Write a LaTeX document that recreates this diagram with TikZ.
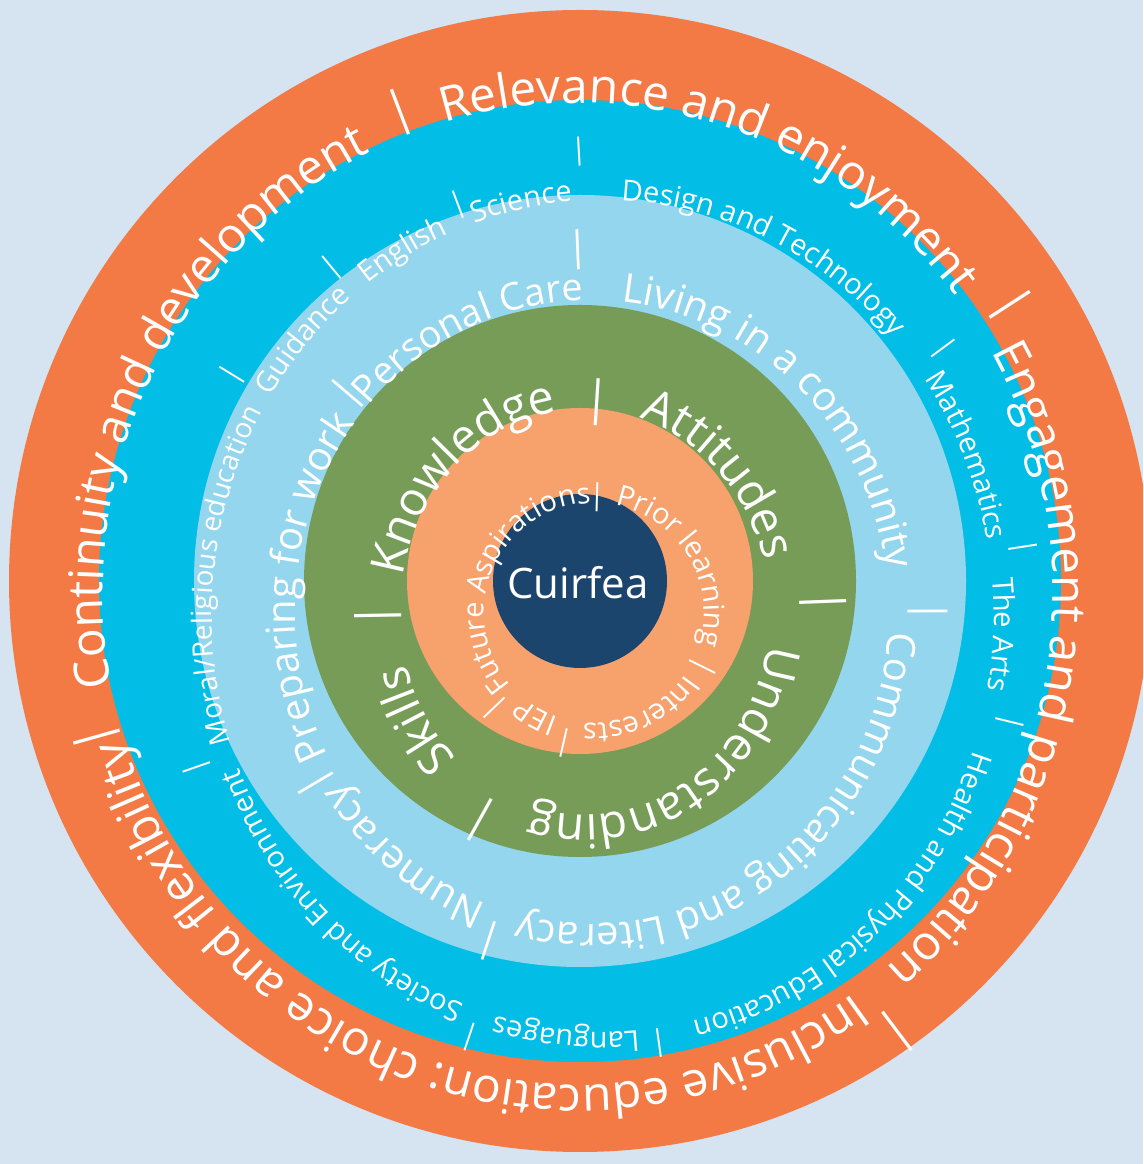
\documentclass[tikz,border=0pt]{standalone}
\usepackage{fontspec}
\setmainfont{Open Sans}
\usetikzlibrary{decorations.text}
\definecolor{bgc}{HTML}{D6E4F2}
\definecolor{ringorange}{HTML}{F37945}
\definecolor{ringcyan}{HTML}{02BEE6}
\definecolor{ringlight}{HTML}{94D6ED}
\definecolor{ringgreen}{HTML}{769C58}
\definecolor{ringpeach}{HTML}{F7A26C}
\definecolor{ringnavy}{HTML}{1C456E}
\tikzset{sepnode/.style={text=white,inner sep=0pt}}
\newcommand\ringtext[8]{%
  \path[shift={(#1pt,#2pt)},decorate,decoration={text along path,text align=center,text color=white,text={|\fontsize{#7}{#7}\selectfont|#8}}]
    (#5:#3pt and #4pt) arc[start angle=#5,end angle=#6,x radius=#3pt,y radius=#4pt];}
\newcommand\sepbar[5]{\node[sepnode,font=\fontsize{#5}{#5}\selectfont,rotate=#4] (#1) at (#2pt,#3pt) {|};}
\newcommand\outertext[3]{\ringtext{578}{570}{475}{491}{#1}{#2}{48}{#3}}
\newcommand\cyantext[3]{\ringtext{603}{548}{391}{416}{#1}{#2}{29}{#3}}
\newcommand\lighttext[3]{\ringtext{592}{552}{297}{312}{#1}{#2}{40}{#3}}
\newcommand\greentext[3]{\ringtext{585}{552}{185}{203}{#1}{#2}{47}{#3}}
\newcommand\innertext[3]{\ringtext{594}{551}{110}{110}{#1}{#2}{29}{#3}}
\begin{document}
\begin{tikzpicture}[x=1pt,y=1pt]
\useasboundingbox (0,0) rectangle (1143,1164);
\fill[bgc] (0,0) rectangle (1143,1164);
\clip (0,0) rectangle (1143,1164);
% rings
\fill[ringorange] (580,583) circle[radius=571pt];
\fill[ringcyan] (580,583) circle[radius=481pt];
\fill[ringlight] (580,583) circle[radius=386pt];
\fill[ringgreen] (580,583) circle[radius=276pt];
\fill[ringpeach] (580,583) circle[radius=173pt];
\fill[ringnavy] (580,583) circle[radius=87pt];
\node[text=white,font=\fontsize{42}{42}\selectfont] (core) at (578,581) {Cuirfea};
% outer ring
\outertext{195.7}{110.9}{Continuity and development}
\outertext{110.9}{32.9}{Relevance and enjoyment}
\outertext{32.9}{-53}{Engagement and participation}
\outertext{-53}{-164.3}{Inclusive education: choice and flexibility}
\sepbar{o1}{400}{1052}{20.9}{48}
\sepbar{o2}{1010}{859}{-57.1}{48}
\sepbar{o3}{897}{133}{-143}{48}
\sepbar{o4}{97}{427}{105.7}{48}
% cyan ring
\cyantext{129.6}{110.6}{English}
\cyantext{110.6}{93.1}{Science}
\cyantext{93.1}{36.5}{Design and Technology}
\cyantext{36.5}{8.8}{Mathematics}
\cyantext{8.8}{-13.8}{The Arts}
\cyantext{-13.8}{-82.1}{Health and Physical Education}
\cyantext{-82.1}{-108.6}{Languages}
\cyantext{-108.6}{-160.7}{Society and Environment}
\ringtext{603}{548}{391}{416}{200}{148.2}{28}{Moral/Religious education}
\cyantext{148.6}{129.6}{Guidance}
\sepbar{c1}{458}{959}{20.6}{29}
\sepbar{c2}{579}{1012}{3.1}{29}
\sepbar{c3}{943}{816}{-53.5}{29}
\sepbar{c4}{1023}{617}{-81.2}{29}
\sepbar{c5}{1010}{442}{-103.8}{29}
\sepbar{c6}{659}{121}{-172.1}{29}
\sepbar{c7}{470}{127}{-198.6}{29}
\sepbar{c8}{197}{397}{-250.7}{29}
\sepbar{c9}{232}{789}{58.6}{29}
\sepbar{c10}{332}{896}{39.6}{29}
% light blue ring
\lighttext{92.3}{0.2}{Living in a community}
\lighttext{0.2}{-108.2}{Communicating and Literacy}
\lighttext{-108.2}{-149.5}{Numeracy}
\lighttext{210.5}{139.5}{Preparing for work}
\ringtext{592}{552}{297}{312}{138.6}{91.6}{38}{Personal Care}
\sepbar{l1}{578}{914}{2.3}{40}
\sepbar{l2}{928}{553}{-89.8}{40}
\sepbar{l3}{489}{223}{-198.2}{40}
\sepbar{l4}{316}{381}{-239.5}{40}
\sepbar{l5}{348}{771}{49.5}{40}
% green ring
\greentext{86.4}{2.2}{Attitudes}
\greentext{2.2}{-119}{Understanding}
\greentext{-119}{-179}{Skills}
\greentext{181}{86.4}{Knowledge}
\sepbar{g1}{597}{762}{-3.6}{47}
\sepbar{g2}{823}{562}{-87.8}{47}
\sepbar{g3}{480}{344}{-209}{47}
\sepbar{g4}{378}{548}{-269}{47}
% inner ring
\innertext{88.5}{-26.4}{Prior learning}
\innertext{-26.4}{-103}{Interests}
\innertext{-103}{-136.2}{IEP}
\innertext{223.8}{88.5}{Future Aspirations}
\sepbar{i1}{597}{667}{-1.5}{29}
\sepbar{i2}{703}{497}{-116.4}{29}
\sepbar{i3}{564}{421}{-193}{29}
\sepbar{i4}{495}{456}{-226.2}{29}
\end{tikzpicture}
\end{document}
